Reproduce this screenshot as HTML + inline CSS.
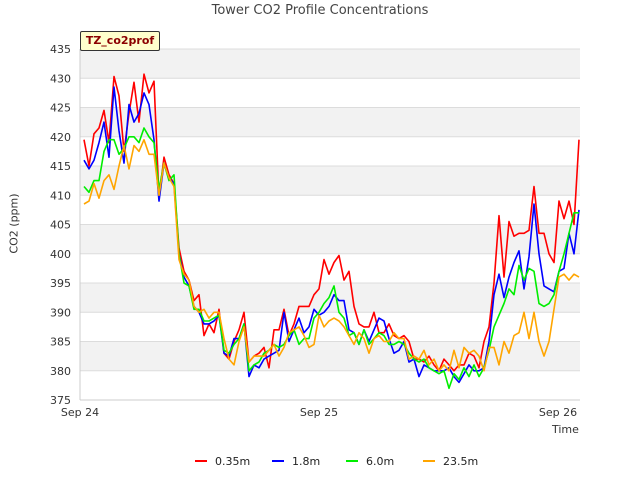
<!DOCTYPE html>
<html><head><meta charset="utf-8"><style>body{margin:0;background:#fff}svg text{font-family:"DejaVu Sans","Liberation Sans",sans-serif}</style></head>
<body>
<svg id="c" width="640" height="480"></svg>
<script>
const tickLabels=["Sep 24","Sep 25","Sep 26"];
const tickHours=[0,24,48];
const yTicks=[375,380,385,390,395,400,405,410,415,420,425,430,435];
const seriesNames=["0.35m","1.8m","6.0m","23.5m"];
const colors=["#ff0000","#0000ff","#00ee00","#ffa500"];
const red=[419.5,415,420.5,421.5,424.5,419,430.3,427,417.5,424,429.3,422.5,430.7,427.5,429.5,409.5,416.5,413.5,412,401,397,395.5,392,393,386,388,386.5,390.5,383,382,385,387,390,381.5,382.5,383,384,380.5,387,387,390.5,386,388,391,391,391,393,394,399,396.5,398.5,399.7,395.5,397,391,388,387.5,387.5,390,386.5,386.5,388,386,385.5,386,385,382,382,381.5,382.5,381,380,382,381,380,381,381,383,382.5,380.5,385,387.5,395,406.5,396,405.5,403,403.5,403.5,404,411.5,403.5,403.5,400,398.5,409,406,409,405,419.5];
const blue=[416,414.5,416,419,422.5,416.5,428.5,421,415.5,425.5,422.5,424,427.5,425.5,419.5,409,415.5,413,412,400,396,394.5,391,390,388,388,388.5,389.5,383,382.5,385.5,385.5,388,379,381,380.5,382,382.5,383,383.5,390,385,387,389,386.5,387.5,390.5,389.5,390,391,393,392,392,387,386.5,384.5,387,385,387,389,388.5,385.5,383,383.5,385,381.5,382,379,381,380.5,380,380,380,380.5,379,378,379.5,381,380,380,380.5,385,393,396.5,392.5,396,398.5,400.5,394,399.5,408.5,400,394.5,394,393.5,397,397.5,403.5,400,407.5];
const green=[411.5,410.5,412.5,412.5,417.5,419.5,419.5,417,418,420,420,419,421.5,420,419,411,415.5,412.5,413.5,400,395,394.5,390.5,390.5,388.5,388.5,389,389.5,383.5,383,384.5,385.5,388,380,381,381.5,383,383.5,384.5,384,384.5,386,387,384.5,385.5,385.5,389,390,391.5,392.5,394.5,390,389,386,386.5,384.5,387,384.5,385.5,386.5,386,384.5,384.5,385,384.5,383,382,381.5,382,380.5,380,379.5,380,377,379.5,378.5,380.5,379,381,379,380.5,383.5,387.5,389.5,391.5,394,393,398,395.5,397.5,397,391.5,391,391.5,393,397,400,403.5,407,407];
const orange=[408.5,409,412,409.5,412.5,413.5,411,415,418.5,414.5,418.5,417.5,419.5,417,417,410,415.5,413,411.5,399,396.5,395.5,391,390,390.5,389,390,390,385.5,382,381,385,387.5,381.5,382.5,382.5,382.5,383.5,384.5,382.5,384,386.5,387,387.5,386,384,384.5,389.5,387.5,388.5,389,388.5,387.5,386,384.5,386.5,385.5,383,385.5,386,385,385,386.5,385.5,385.5,382,382.5,382,383.5,381,382,380,381,380,383.5,380.5,384,383,383.5,382.5,380,384,384,381,385,383,386,386.5,390,385.5,390,385,382.5,385,390.5,396,396.5,395.5,396.5,396];
const series=[red,blue,green,orange];
const NS="http://www.w3.org/2000/svg";
const svg=document.getElementById('c');
const X0=80,X1=580,Y0=49,Y1=400;
function xs(h){return 80+h*(239/24);}
function ys(v){return Y1-(v-375)*(Y1-Y0)/60;}
function mk(t,a,p){const e=document.createElementNS(NS,t);for(const k in a)e.setAttribute(k,a[k]);(p||svg).appendChild(e);return e;}
// bands
for(let v=375;v<435;v+=5){
 const r=mk('rect',{x:X0,y:ys(v+5),width:X1-X0,height:ys(v)-ys(v+5),fill:((v-375)/5)%2==1?'#f2f2f2':'#ffffff'});
 
 
}
yTicks.forEach(v=>{
 const l=mk('line',{x1:X0,x2:X1,y1:ys(v),y2:ys(v),stroke:'#dcdcdc','stroke-width':1});
 
 
 const t=mk('text',{x:X0-9,y:ys(v)+4,'text-anchor':'end','font-size':11,fill:'#333'});
 t.textContent=v;
 
 
});
mk('line',{x1:X0,x2:X0,y1:Y0,y2:Y1,stroke:'#ccc'});
mk('line',{x1:X0,x2:X1,y1:Y1,y2:Y1,stroke:'#ccc'});
tickHours.forEach((h,i)=>{
 const t=mk('text',{x:xs(h),y:416,'text-anchor':'middle','font-size':11,fill:'#333'});
 t.textContent=tickLabels[i];
 
 
});
series.forEach((d,si)=>{
 const pts=d.map((v,i)=>xs((4+5*i)*24/239).toFixed(1)+','+ys(v).toFixed(1)).join(' ');
 const p=mk('polyline',{points:pts,fill:'none',stroke:colors[si],'stroke-width':1.6,'stroke-linejoin':'round'});
 
 
});
const lx=[195,272,346,423];
seriesNames.forEach((n,i)=>{
 const g=mk('g',{});
 
 
 mk('line',{x1:lx[i],x2:lx[i]+12,y1:461,y2:461,stroke:colors[i],'stroke-width':2},g);
 const t=mk('text',{x:lx[i]+20,y:465,'font-size':11,fill:'#222'},g);
 t.textContent=n;
});
</script>
<div style="position:absolute;left:0;top:0;width:640px;height:480px;pointer-events:none">
<div style="position:absolute;top:3px;left:0;width:640px;text-align:center;font:13px 'DejaVu Sans','Liberation Sans',sans-serif;color:#444">Tower CO2 Profile Concentrations</div>
<div style="position:absolute;left:80px;top:31px;width:78px;height:18px;background:#ffffcc;border:1px solid #333;border-radius:2px;font:bold 11px 'DejaVu Sans','Liberation Sans',sans-serif;color:#8b0000;line-height:18px;text-align:center">TZ_co2prof</div>
<div style="position:absolute;left:-21px;top:217px;width:70px;text-align:center;transform:rotate(-90deg);font:11px 'DejaVu Sans','Liberation Sans',sans-serif;color:#333">CO2 (ppm)</div>
<div style="position:absolute;left:552px;top:423px;font:11px 'DejaVu Sans','Liberation Sans',sans-serif;color:#333">Time</div>
</div>
</body></html>
